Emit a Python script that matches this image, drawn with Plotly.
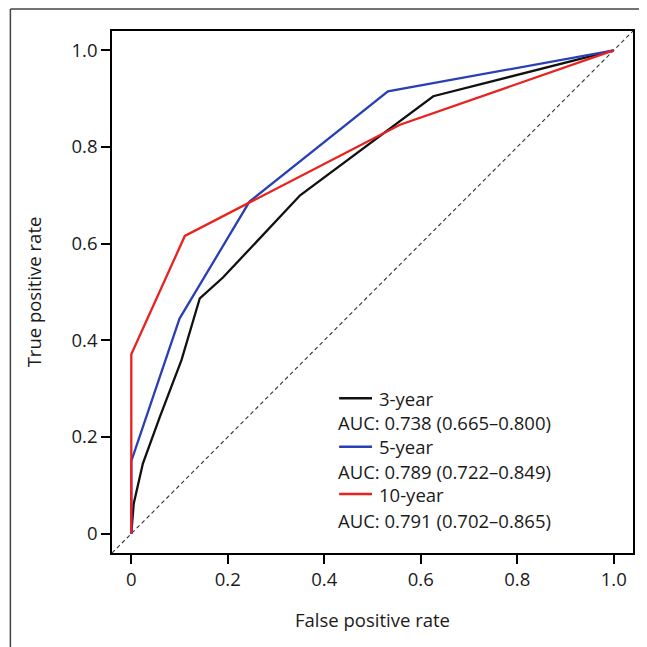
import plotly.graph_objects as go

# ROC curve data
fpr_3y = [0.0, 0.005, 0.024, 0.059, 0.104, 0.142, 0.19, 0.35, 0.626, 1.0]
tpr_3y = [0.0, 0.062, 0.145, 0.241, 0.359, 0.487, 0.53, 0.70, 0.905, 1.0]

fpr_5y = [0.0, 0.0, 0.10, 0.245, 0.532, 1.0]
tpr_5y = [0.0, 0.15, 0.445, 0.687, 0.915, 1.0]

fpr_10y = [0.0, 0.0, 0.111, 0.557, 1.0]
tpr_10y = [0.0, 0.371, 0.616, 0.846, 1.0]

series_names = ["3-year", "5-year", "10-year"]
auc_labels = ["AUC: 0.738 (0.665–0.800)",
              "AUC: 0.789 (0.722–0.849)",
              "AUC: 0.791 (0.702–0.865)"]
series_colors = ["#111111", "#2a3fb5", "#e8231f"]

ref_line = [-0.04, 1.04]  # chance diagonal spans the full axis range
tick_vals = [0, 0.2, 0.4, 0.6, 0.8, 1.0]
tick_text = ["0", "0.2", "0.4", "0.6", "0.8", "1.0"]

FONT = "Open Sans"
TXT = "#1a1a1a"
AX_SIZE = 18.5
LEG_SIZE = 18.5

fig = go.Figure()

fig.add_trace(go.Scatter(x=ref_line, y=ref_line, mode="lines",
                         line=dict(color="#333333", width=1.1, dash="4px,3px"),
                         showlegend=False, hoverinfo="skip"))

for fx, ty, name, col in [(fpr_3y, tpr_3y, series_names[0], series_colors[0]),
                          (fpr_5y, tpr_5y, series_names[1], series_colors[1]),
                          (fpr_10y, tpr_10y, series_names[2], series_colors[2])]:
    fig.add_trace(go.Scatter(x=fx, y=ty, mode="lines", name=name,
                             line=dict(color=col, width=2.3),
                             showlegend=False))

axis_common = dict(
    range=[-0.04, 1.04], tickvals=tick_vals, ticktext=tick_text,
    showgrid=False, zeroline=False, showline=True, mirror=True,
    linecolor="black", linewidth=1.5, ticks="outside", ticklen=9,
    tickwidth=1.5, tickcolor="black",
    tickfont=dict(family=FONT, size=AX_SIZE, color=TXT),
)

# the page body has an 8px margin, so the figure is 639px and offset by 8px
fig.update_layout(
    width=639, height=639,
    margin=dict(l=104, r=12, t=23, b=94),
    paper_bgcolor="white", plot_bgcolor="white",
    font=dict(family=FONT, size=AX_SIZE, color=TXT),
    xaxis=dict(axis_common, title=dict(text="False positive rate",
                                       font=dict(family=FONT, size=AX_SIZE, color=TXT),
                                       standoff=24)),
    yaxis=dict(axis_common, title=dict(text="True positive rate",
                                       font=dict(family=FONT, size=AX_SIZE, color=TXT),
                                       standoff=25)),
    showlegend=False,
)

# outer frame lines (top and left), in paper coordinates
fig.add_shape(type="line", xref="paper", yref="paper",
              x0=(10 - 112) / 523, x1=(660 - 112) / 523,
              y0=(553 - 9) / 522, y1=(553 - 9) / 522,
              line=dict(color="#444444", width=1.5))
fig.add_shape(type="line", xref="paper", yref="paper",
              x0=(10 - 112) / 523, x1=(10 - 112) / 523,
              y0=(553 - 9) / 522, y1=(553 - 660) / 522,
              line=dict(color="#444444", width=1.5))

# custom legend
name_y = [398.3, 446.7, 494.0]
auc_y = [422.7, 471.7, 520.0]
for i in range(3):
    yp = (553 - name_y[i]) / 522
    fig.add_shape(type="line", xref="paper", yref="paper",
                  x0=(340 - 112) / 523, x1=(373 - 112) / 523, y0=yp, y1=yp,
                  line=dict(color=series_colors[i], width=2.5))
    fig.add_annotation(xref="paper", yref="paper", x=(379 - 112) / 523, y=yp,
                       text=series_names[i], showarrow=False, borderpad=0,
                       xanchor="left", yanchor="middle",
                       font=dict(family=FONT, size=LEG_SIZE, color=TXT))
    fig.add_annotation(xref="paper", yref="paper", x=(338 - 112) / 523,
                       y=(553 - auc_y[i]) / 522,
                       text=auc_labels[i], showarrow=False, borderpad=0,
                       xanchor="left", yanchor="middle",
                       font=dict(family=FONT, size=LEG_SIZE, color=TXT))

fig.write_html("out.html")
